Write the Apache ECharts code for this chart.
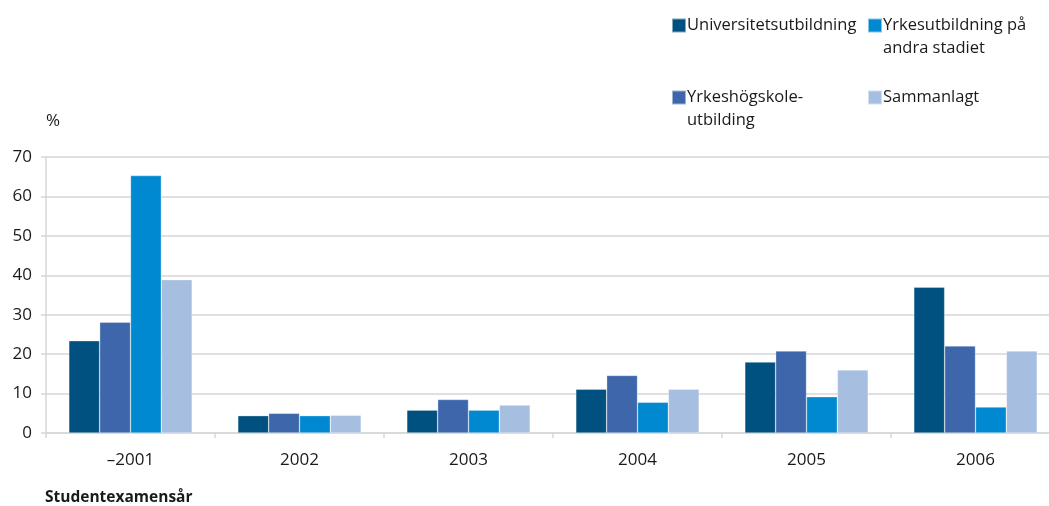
<!DOCTYPE html>
<html>
<head>
<meta charset="utf-8">
<script src="https://cdn.jsdelivr.net/npm/echarts@6/dist/echarts.min.js"></script>
<style>
  html, body { margin: 0; padding: 0; background: #fff; }
  #chart { width: 1049px; height: 506px; }
</style>
</head>
<body>
<div id="chart"></div>
<script>
const categories = ['–2001', '2002', '2003', '2004', '2005', '2006']
const seriesNames = [
  'Universitetsutbildning',
  'Yrkeshögskoleutbildning',
  'Yrkesutbildning på andra stadiet',
  'Sammanlagt'
]
const universitet = [23.4, 4.4, 5.8, 11.1, 18.0, 37.0]
const yrkeshogskole = [28.1, 5.0, 8.5, 14.6, 20.8, 22.1]
const yrkesutbildning = [65.3, 4.4, 5.8, 7.8, 9.2, 6.6]
const sammanlagt = [38.9, 4.5, 7.1, 11.1, 16.0, 20.8]
const yTicks = [0, 10, 20, 30, 40, 50, 60, 70]

const colors = ['#00517f', '#3e66ab', '#0089d1', '#a6bedf']
const values = [universitet, yrkeshogskole, yrkesutbildning, sammanlagt]

const fontFamily = '"Open Sans", sans-serif'
const textColor = '#1a1a1a'
const gridColor = '#d6d6d6'

// legend labels are wrapped like the original
const legendLines = {
  'Yrkesutbildning på andra stadiet': ['Yrkesutbildning på', 'andra stadiet'],
  'Yrkeshögskoleutbildning': ['Yrkeshögskole-', 'utbilding']
}

function makeLegend(name, left, iconTop) {
  const lines = legendLines[name] || [name]
  const twoLines = lines.length > 1
  const label = lines.map(l => '{a|' + l + '}').join('\n')
  return {
    data: [name],
    left: left,
    top: iconTop,
    padding: 0,
    itemWidth: 14,
    itemHeight: 14,
    itemGap: 0,
    icon: 'rect',
    selectedMode: false,
    formatter: () => label,
    textStyle: {
      fontFamily: fontFamily,
      fontSize: 16.5,
      color: textColor,
      // padding on top pushes the first line down level with the icon
      padding: twoLines ? [23, 0, 0, -4] : [0, 0, 0, -4],
      rich: {
        a: { fontFamily: fontFamily, fontSize: 16.5, color: textColor, lineHeight: 23 }
      }
    }
  }
}

const chart = echarts.init(document.getElementById('chart'))

const option = {
  animation: false,
  color: colors,
  textStyle: { fontFamily: fontFamily },
  title: {
    text: 'Studentexamensår',
    left: 40,
    top: 490,
    padding: [0, 5],
    textStyle: { fontFamily: fontFamily, fontSize: 15.5, fontWeight: 'bold', color: textColor }
  },
  legend: [
    makeLegend(seriesNames[0], 671, 17),
    makeLegend(seriesNames[2], 867, 17),
    makeLegend(seriesNames[1], 671, 89),
    makeLegend(seriesNames[3], 867, 89)
  ],
  grid: {
    left: 46,
    width: 1014,
    top: 157,
    bottom: 73,
    containLabel: false,
    outerBoundsMode: 'none'
  },
  xAxis: {
    type: 'category',
    data: categories,
    axisLine: { lineStyle: { color: gridColor, width: 1.5 } },
    axisTick: { show: true, length: 5, lineStyle: { color: gridColor, width: 1.5 } },
    axisLabel: { color: textColor, fontSize: 17, margin: 19, fontFamily: fontFamily }
  },
  yAxis: {
    type: 'value',
    min: yTicks[0],
    max: yTicks[yTicks.length - 1],
    interval: 10,
    name: '%',
    nameLocation: 'end',
    nameGap: 36,
    nameTextStyle: { color: textColor, fontSize: 17, align: 'left', verticalAlign: 'middle', fontFamily: fontFamily },
    axisLine: { show: true, lineStyle: { color: gridColor, width: 1.5 } },
    axisTick: { show: true, length: 5, lineStyle: { color: gridColor, width: 1.5 } },
    splitLine: { lineStyle: { color: gridColor, width: 1.5 } },
    axisLabel: { color: textColor, fontSize: 17, margin: 14, fontFamily: fontFamily }
  },
  series: seriesNames.map((name, i) => ({
    name: name,
    type: 'bar',
    barGap: '0%',
    barCategoryGap: '27%',
    itemStyle: {
      color: colors[i],
      borderColor: 'rgba(255,255,255,0.5)',
      borderWidth: 0.6
    },
    data: values[i]
  }))
}

chart.setOption(option)
</script>
</body>
</html>
